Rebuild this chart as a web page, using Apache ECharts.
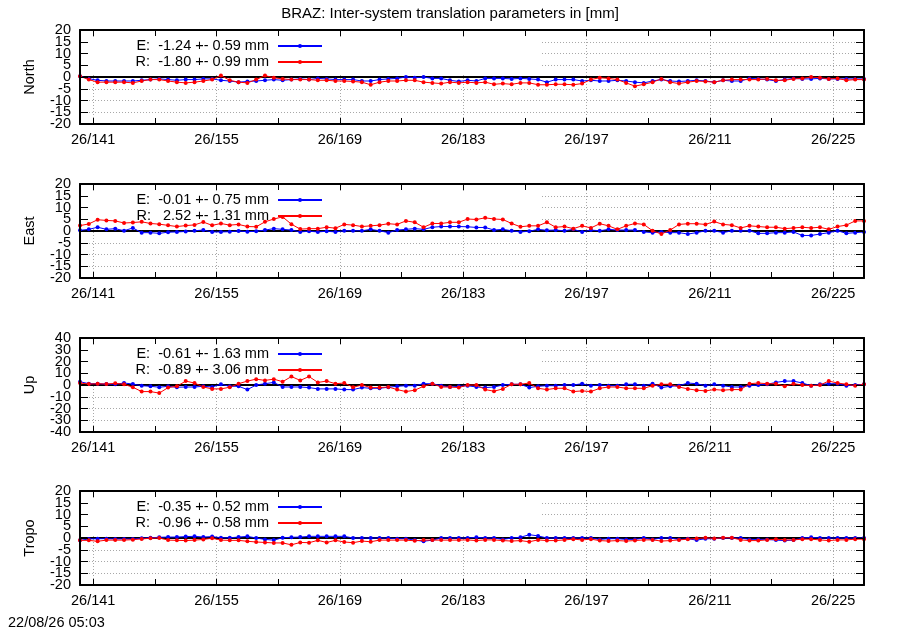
<!DOCTYPE html>
<html>
<head>
<meta charset="utf-8">
<script src="https://cdn.jsdelivr.net/npm/echarts@6/dist/echarts.min.js"></script>
<style>html,body{margin:0;padding:0;background:#fff}#c{width:900px;height:630px}</style>
</head>
<body>
<div id="c"></div>
<script>
// ---------------- data ----------------
const chartTitle = 'BRAZ: Inter-system translation parameters in [mm]';
const timestamp = '22/08/26 05:03';
const yearTag = '26';
const dayOrigin = 141;
const xTickDays = [141, 155, 169, 183, 197, 211, 225];

const days = [
  139.5,140.5,141.5,142.5,143.5,144.5,145.5,146.5,147.5,148.5,
  149.5,150.5,151.5,152.5,153.5,154.5,155.5,156.5,157.5,158.5,
  159.5,160.5,161.5,162.5,163.5,164.5,165.5,166.5,167.5,168.5,
  169.5,170.5,171.5,172.5,173.5,174.5,175.5,176.5,177.5,178.5,
  179.5,180.5,181.5,182.5,183.5,184.5,185.5,186.5,187.5,188.5,
  189.5,190.5,191.5,192.5,193.5,194.5,195.5,196.5,197.5,198.5,
  199.5,200.5,201.5,202.5,203.5,204.5,205.5,206.5,207.5,208.5,
  209.5,210.5,211.5,212.5,213.5,214.5,215.5,216.5,217.5,218.5,
  219.5,220.5,221.5,222.5,223.5,224.5,225.5,226.5,227.5,228.5
];

const northE = [
  0.3,-0.7,-1.4,-1.7,-1.7,-1.7,-1.7,-1.4,-1.1,-0.8,
  -1.1,-1.4,-1.1,-1.1,-0.8,-0.8,-1.4,-1.7,-2.2,-1.9,
  -1.7,-1.4,-1.1,-1.4,-1.1,-0.8,-1.1,-0.6,-0.8,-1.1,
  -1.1,-1.1,-1.7,-1.7,-1.1,-0.8,-0.6,0,-0.3,0,
  -0.6,-0.6,-1.4,-1.9,-1.4,-1.7,-0.6,-0.6,-0.6,-0.8,
  -0.6,-0.8,-1.1,-2.2,-1.1,-1.1,-1.1,-1.7,-1.4,-1.7,
  -1.7,-1.4,-1.7,-2.2,-2.5,-1.7,-1.1,-1.7,-1.9,-1.7,
  -1.4,-1.7,-2.2,-1.4,-1.7,-1.7,-0.6,-0.8,-1.1,-1.7,
  -1.1,-0.6,-0.8,-0.8,-0.6,-0.8,-0.8,-0.8,-0.8,-0.8
];
const northR = [
  0.3,-1.1,-2.2,-2.2,-2.2,-2.2,-2.5,-1.7,-1.1,-1.1,
  -1.7,-2.2,-2.5,-2.2,-1.7,-1.1,0.6,-1.4,-2.2,-2.5,
  -1.1,0.6,-0.3,-0.8,-1.1,-1.1,-1.1,-1.4,-1.4,-1.7,
  -1.7,-1.9,-2.2,-3.3,-2.2,-1.7,-1.7,-1.4,-1.4,-2.2,
  -2.5,-2.8,-2.2,-2.5,-2.2,-2.5,-2.2,-3.1,-2.8,-3.1,
  -2.5,-2.5,-3.3,-3.3,-3.1,-3.1,-3.3,-2.8,-1.1,-0.3,
  -0.6,-1.1,-2.5,-3.9,-3.1,-2.2,-0.8,-2.2,-2.8,-2.2,
  -1.7,-1.9,-2.2,-1.4,-1.1,-1.1,-1.1,-1.1,-0.8,-1.4,
  -1.4,-0.8,-0.6,0,-0.3,-0.8,-0.6,-1.4,-1.1,-1.1
];
const eastE = [
  0.3,0.7,1.6,0.7,1.0,0.1,1.3,-0.7,-0.7,-1.0,
  -0.5,-0.4,-0.2,0.1,0.4,-0.4,-0.4,-0.3,0,-0.3,
  -0.1,0.4,1.0,0.7,0.4,-0.4,-0.1,-0.4,-0.1,-0.4,
  0.1,0.1,0.1,0.7,0.1,-0.7,0.4,0.7,1.0,0.7,
  1.6,1.9,1.9,1.9,1.8,1.5,1.5,0.4,0.7,0.1,
  -0.4,-0.1,0.7,0.3,0.4,0.1,0.7,-0.4,0.4,0.1,
  0.7,0.4,0.4,0.4,-0.4,-0.7,-0.4,-0.7,-0.7,-1.3,
  -0.7,0.1,0.1,-0.7,0.1,0.1,0.1,-1.0,-1.0,-0.7,
  -0.7,-0.4,-1.9,-1.9,-1.3,-0.7,0.1,-1.0,-0.7,-0.4
];
const eastR = [
  2.3,3.0,4.8,4.5,4.3,3.4,3.6,3.9,3.2,2.9,
  2.4,1.9,2.3,2.6,3.8,2.4,3.2,2.5,2.8,1.9,
  1.8,3.9,5.1,6.0,2.9,0.8,1.0,1.0,1.6,1.2,
  2.8,2.5,1.9,2.2,2.5,3.1,2.8,4.3,3.7,1.6,
  3.2,3.2,3.7,3.7,5.1,4.9,5.6,5.1,4.9,3.2,
  1.8,2.2,2.2,3.7,1.6,1.9,1.0,2.2,1.3,3.1,
  2.2,0.7,2.2,3.2,2.8,0.1,-1.3,0.4,2.8,3.1,
  3.1,2.8,4.0,2.8,2.5,1.3,2.2,1.9,1.6,1.6,
  1.0,1.3,1.6,1.3,1.6,0.7,1.9,2.5,4.3,4.3
];
const upE = [
  2.8,1.1,1.1,0.8,0.6,1.7,0.8,-0.6,-1.1,-1.9,
  -1.1,-1.9,-1.7,-1.7,-1.1,-1.7,0.6,-1.1,-1.1,-3.9,
  0,1.1,2.2,-1.7,-1.7,-1.7,-2.2,-3.3,-3.3,-3.3,
  -3.9,-3.9,-2.2,-2.8,-2.8,-1.9,-1.1,-0.6,-0.6,1.1,
  1.1,-0.6,-1.7,-1.1,-0.6,-1.7,-2.2,-1.7,0,0.6,
  0.6,-2.2,-1.1,-0.6,-0.6,0,0,1.1,-0.6,0,
  -0.6,-0.6,0.6,0.6,-0.6,1.1,-2.2,-1.1,-0.6,1.7,
  1.1,-0.6,0.6,-0.6,-1.7,-1.7,-0.6,0,0.6,2.2,
  3.3,3.3,1.7,-0.6,0.6,1.1,1.1,-0.6,0,0.6
];
const upR = [
  1.7,0.8,1.1,0.8,1.4,0.6,-1.9,-5.6,-5.6,-6.9,
  -2.2,-1.1,3.3,1.7,-1.7,-3.3,-3.3,-1.9,1.1,3.3,
  5.0,3.9,5.0,2.8,7.2,3.9,7.2,2.2,3.3,1.1,
  1.7,-1.9,0,-2.2,-2.2,-1.7,-3.9,-5.6,-4.4,-1.1,
  1.1,-1.7,-1.7,-2.2,0,0,-3.9,-5.3,-3.3,0.6,
  0.6,1.7,-2.8,-3.9,-2.8,-2.8,-5.6,-5.0,-5.6,-2.8,
  -1.7,-1.7,-2.8,-2.8,-2.8,-0.6,0.6,0.6,-1.7,-3.3,
  -4.4,-5.0,-3.9,-4.4,-3.9,-3.9,1.1,1.7,1.1,1.1,
  -1.1,1.1,0,-0.6,0,3.3,1.7,0.6,-0.6,0.6
];
const tropoE = [
  -1.0,-0.4,-0.3,-0.3,-0.4,-0.4,-0.4,-0.1,0.1,0.3,
  0.4,0.4,0.6,0.7,0.4,0.6,0.1,0.1,0.4,0.7,
  0,-0.6,-0.9,0.1,0.3,0.4,0.7,0.7,0.7,0.7,
  0.7,0,0,0,0,0,-0.3,-0.3,-0.9,-1.4,
  -0.9,0,0,0,0,0.3,0,0,-0.6,0,
  0.3,1.4,0.9,0,0,0,0,0,0,-0.6,
  -0.3,-0.3,-0.6,-0.6,0,-0.6,0,0,-0.6,-0.3,
  -0.9,-0.3,-0.3,0,0,0,-0.6,-0.6,-0.6,-0.9,
  -1.1,-0.9,0,0.3,0,0,0,0,0,0
];
const tropoR = [
  -1.0,-1.0,-1.4,-0.9,-0.9,-0.9,-0.7,-0.4,-0.1,0,
  -0.9,-1.0,-1.1,-0.9,-0.6,-0.1,-0.9,-1.0,-1.0,-1.4,
  -1.7,-1.9,-2.1,-2.1,-2.9,-1.9,-2.0,-1.0,-1.9,-1.0,
  -1.7,-2.0,-1.3,-1.6,-0.9,-0.9,-0.9,-0.9,-1.2,-0.9,
  -0.9,-0.9,-0.9,-0.9,-0.8,-1.1,-0.8,-0.8,-1.1,-1.3,
  -1.1,-1.6,-0.8,-1.1,-1.1,-0.8,-0.5,-0.8,-0.5,-1.1,
  -1.3,-1.1,-1.3,-1.1,-0.8,-0.8,-1.3,-1.1,-0.8,-0.5,
  -0.2,0.1,-0.2,0.1,0.1,-0.8,-1.1,-1.1,-0.8,-0.5,
  -0.8,-0.8,-0.5,-0.5,-0.8,-1.1,-0.8,-0.8,-0.5,-0.5
];

const panelNames = ['North', 'East', 'Up', 'Tropo'];
const panelE = [northE, eastE, upE, tropoE];
const panelR = [northR, eastR, upR, tropoR];
const legendE = ['E:  -1.24 +- 0.59 mm', 'E:  -0.01 +- 0.75 mm', 'E:  -0.61 +- 1.63 mm', 'E:  -0.35 +- 0.52 mm'];
const legendR = ['R:  -1.80 +- 0.99 mm', 'R:   2.52 +- 1.31 mm', 'R:  -0.89 +- 3.06 mm', 'R:  -0.96 +- 0.58 mm'];
const yMin = [-20, -20, -40, -20];
const yMax = [20, 20, 40, 20];
const yStep = [5, 5, 10, 5];

// ---------------- layout / style ----------------
const FONT = 'Liberation Sans';
const FS = 14.5;
const panelTops = [30, 184, 338, 491];
const panelH = 94;
const xMin = days[0] - dayOrigin;
const xMax = days[days.length - 1] - dayOrigin;
const gridLine = {color: '#a8a8a8', width: 1, type: [1, 2]};
const border = {color: '#000', width: 2};

const grids = [], xAxes = [], yAxes = [], series = [], legends = [];
panelNames.forEach((name, k) => {
  grids.push({left: 80, right: 36, top: panelTops[k], height: panelH});
  xAxes.push({
    gridIndex: k, type: 'value', min: xMin, max: xMax, minInterval: 7, maxInterval: 7,
    position: 'bottom', z: 3,
    axisLine: {show: true, onZero: false, lineStyle: border},
    axisTick: {show: true, inside: true, length: 6, lineStyle: {color: '#000', width: 1}},
    axisLabel: {
      show: true, margin: 8, color: '#000', fontFamily: FONT, fontSize: FS,
      showMinLabel: false, showMaxLabel: false,
      formatter: v => {
        const d = Math.round(v + dayOrigin);
        return (Math.abs(v + dayOrigin - d) < 1e-6 && xTickDays.indexOf(d) >= 0) ? yearTag + '/' + d : '';
      }
    },
    splitLine: {show: false}
  });
  xAxes.push({
    gridIndex: k, type: 'value', min: xMin, max: xMax, minInterval: 7, maxInterval: 7,
    position: 'top', z: 3,
    axisLine: {show: true, onZero: false, lineStyle: border},
    axisTick: {show: true, inside: true, length: 6, lineStyle: {color: '#000', width: 1}},
    axisLabel: {show: false}, splitLine: {show: false}
  });
  xAxes.push({
    gridIndex: k, type: 'value', min: xMin, max: xMax, minInterval: 14, maxInterval: 14,
    position: 'bottom', z: 0,
    axisLine: {show: true, onZero: true, lineStyle: {color: '#000', width: 2}},
    axisTick: {show: false}, axisLabel: {show: false},
    splitLine: {show: true, lineStyle: gridLine}
  });
  // y axis 0: data axis with horizontal grid lines
  yAxes.push({
    gridIndex: k, type: 'value', min: yMin[k], max: yMax[k], interval: yStep[k], position: 'left', z: 0,
    axisLine: {show: false}, axisTick: {show: false}, axisLabel: {show: false},
    splitLine: {show: true, lineStyle: gridLine}
  });
  // y axes 1 & 2: left border/ticks + half of labels each (keeps labels from being auto-hidden)
  [0, 1].forEach(parity => {
    yAxes.push({
      gridIndex: k, type: 'value', min: yMin[k], max: yMax[k], interval: yStep[k], position: 'left', z: 3,
      name: parity === 0 ? name : '', nameLocation: 'middle', nameRotate: 90, nameGap: 43,
      nameTextStyle: {color: '#000', fontFamily: FONT, fontSize: FS},
      axisLine: {show: parity === 0, onZero: false, lineStyle: border},
      axisTick: {show: parity === 0, inside: true, length: 8, lineStyle: {color: '#000', width: 1}},
      axisLabel: {show: true, margin: 9, color: '#000', fontFamily: FONT, fontSize: FS,
                  showMinLabel: true, showMaxLabel: true, hideOverlap: false,
                  formatter: v => {
                    const n = Math.round((v - yMin[k]) / yStep[k]);
                    return (n % 2 === parity) ? String(v) : '';
                  }},
      splitLine: {show: false}
    });
  });
  // y axis 3: right border
  yAxes.push({
    gridIndex: k, type: 'value', min: yMin[k], max: yMax[k], interval: yStep[k], position: 'right', z: 3,
    axisLine: {show: true, onZero: false, lineStyle: border},
    axisTick: {show: true, inside: true, length: 8, lineStyle: {color: '#000', width: 1}},
    axisLabel: {show: false}, splitLine: {show: false}
  });

  const mk = (vals, nm, col) => ({
    type: 'line', name: nm, xAxisIndex: 3 * k, yAxisIndex: 4 * k, z: 2,
    data: vals.map((v, i) => [days[i] - dayOrigin, v]),
    symbol: 'circle', symbolSize: 4, showSymbol: true,
    itemStyle: {color: col}, lineStyle: {color: col, width: 1},
    emphasis: {disabled: true}, silent: true, animation: false
  });
  series.push(mk(panelE[k], legendE[k], '#0000ff'));
  series.push(mk(panelR[k], legendR[k], '#ff0000'));

  legends.push({
    data: [legendE[k], legendR[k]], orient: 'vertical', align: 'right',
    right: 360, top: panelTops[k] + 8, z: 1,
    padding: [0.5, 217, 5.5, 49], backgroundColor: '#fff',
    itemWidth: 44, itemHeight: 5, itemGap: 1, selectedMode: false,
    formatter: n => n + ' ',
    textStyle: {color: '#000', fontFamily: FONT, fontSize: FS}
  });
});

const chart = echarts.init(document.getElementById('c'), null, {renderer: 'canvas'});
chart.setOption({
  animation: false,
  backgroundColor: '#fff',
  title: [
    {text: chartTitle, left: 'center', top: 6, padding: 0,
     textStyle: {color: '#000', fontFamily: FONT, fontSize: 15, fontWeight: 'normal'}},
    {text: timestamp, left: 8, top: 615, padding: 0,
     textStyle: {color: '#000', fontFamily: FONT, fontSize: FS, fontWeight: 'normal'}}
  ],
  legend: legends,
  grid: grids,
  xAxis: xAxes,
  yAxis: yAxes,
  series: series
});
</script>
</body>
</html>
